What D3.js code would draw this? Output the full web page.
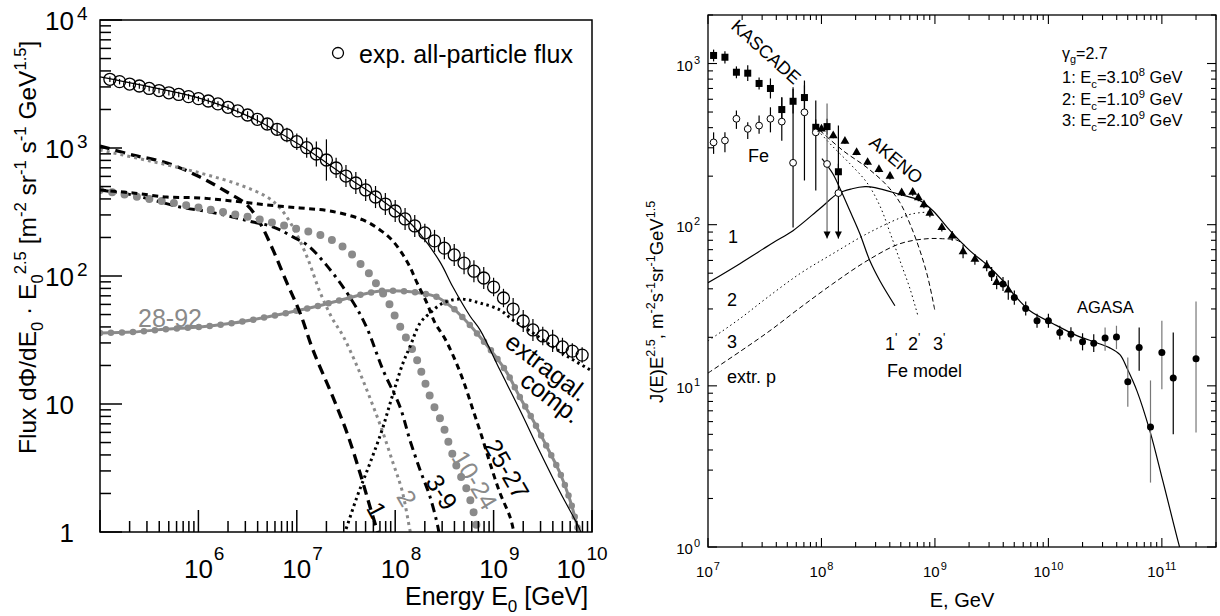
<!DOCTYPE html>
<html>
<head>
<meta charset="utf-8">
<script src="https://cdn.jsdelivr.net/npm/d3@7"></script>
<style>
body { margin: 0; background: #fff; }
text { font-family: "Liberation Sans", Arial, Helvetica, sans-serif; fill: #000; }
</style>
</head>
<body>
<svg id="chart" width="1220" height="616"></svg>
<script>
// ---------------- left panel data ----------------
var allE = [1.26e5, 1.58e5, 2.00e5, 2.51e5, 3.16e5, 3.98e5, 5.01e5, 6.31e5, 7.94e5,
  1.00e6, 1.26e6, 1.58e6, 2.00e6, 2.51e6, 3.16e6, 3.98e6, 5.01e6, 6.31e6, 7.94e6,
  1.00e7, 1.26e7, 1.58e7, 2.00e7, 2.51e7, 3.16e7, 3.98e7, 5.01e7, 6.31e7, 7.94e7,
  1.00e8, 1.26e8, 1.58e8, 2.00e8, 2.51e8, 3.16e8, 3.98e8, 5.01e8, 6.31e8, 7.94e8,
  1.00e9, 1.26e9, 1.58e9, 2.00e9, 2.51e9, 3.16e9, 3.98e9, 5.01e9, 6.31e9, 7.94e9];
var allFlux = [3440, 3300, 3160, 3050, 2920, 2810, 2700, 2620, 2520,
  2430, 2330, 2210, 2080, 1950, 1810, 1675, 1540, 1400, 1265,
  1120, 1005, 898, 806, 698, 604, 533, 470, 414, 365,
  322, 279, 246, 217, 188, 165, 146, 126, 109, 96.5,
  82, 67.3, 55.2, 44.5, 37.9, 34.0, 31.1, 27.9, 25.9, 24.1];
var allErr = [0.05, 0.05, 0.05, 0.05, 0.05, 0.05, 0.05, 0.05, 0.05,
  0.05, 0.05, 0.05, 0.05, 0.05, 0.07, 0.08, 0.10, 0.12, 0.14,
  0.16, 0.20, 0.25, 0.45, 0.20, 0.22, 0.22, 0.22, 0.22, 0.22,
  0.22, 0.22, 0.22, 0.18, 0.22, 0.22, 0.22, 0.22, 0.22, 0.22,
  0.18, 0.18, 0.22, 0.22, 0.22, 0.18, 0.22, 0.18, 0.15, 0.15];

// model curves: [energy GeV, flux]
var galTotal = [[1e5, 3590], [3.22e5, 3000], [1.04e6, 2440], [3.34e6, 1750], [1.08e7, 1055],
  [3.47e7, 572], [7.01e7, 400], [1.29e8, 279], [1.79e8, 213], [2.85e8, 129], [3.86e8, 82],
  [5.75e8, 48.7], [7.28e8, 37.9], [1.16e9, 18.4], [1.85e9, 8.98], [2.96e9, 4.22],
  [4.73e9, 2.05], [7.55e9, 1.04], [7.9e9, 0.93]];
var zHydrogen = [[1e5, 1037], [2.16e5, 881], [4.80e5, 764], [1.04e6, 593], [1.95e6, 453],
  [3.12e6, 359], [4.23e6, 259], [5.73e6, 160], [7.94e6, 88.2], [1.08e7, 51.4], [1.46e7, 26.4],
  [2.33e7, 11.3], [3.24e7, 5.94], [4.39e7, 2.89], [5.55e7, 1.57], [7.01e7, 0.866]];
var zHelium = [[1e5, 965], [3.22e5, 791], [1.04e6, 638], [2.65e6, 514], [4.98e6, 414],
  [6.75e6, 340], [9.14e6, 241], [1.27e7, 141], [1.72e7, 75], [2.28e7, 47], [2.95e7, 34],
  [4.09e7, 19.8], [5.55e7, 11.1], [7.35e7, 6.26], [9.51e7, 3.46], [1.17e8, 2.13],
  [1.41e8, 1.04], [1.48e8, 0.866]];
var z3to9 = [[1e5, 470], [2.16e5, 429], [3.46e5, 392], [6.50e5, 346], [1.31e6, 316],
  [2.47e6, 284], [3.59e6, 264], [4.98e6, 250], [6.75e6, 229], [9.14e6, 202], [1.27e7, 175],
  [2.03e7, 120], [3.72e7, 62.7], [5.16e7, 39.2], [7.52e7, 18.4], [1.12e8, 9.48],
  [1.41e8, 5.23], [1.79e8, 3.05], [2.26e8, 1.88], [2.72e8, 1.09], [2.85e8, 0.866]];
var z10to24 = [[1e5, 470], [2.74e5, 407], [6.50e5, 365], [1.55e6, 322], [3.59e6, 284],
  [8.53e6, 241], [1.94e7, 202], [3.24e7, 160], [4.71e7, 118], [5.81e7, 98.2], [7.01e7, 77.8],
  [8.07e7, 68.5], [9.27e7, 54.2], [1.04e8, 45.3], [1.20e8, 36.5], [1.59e8, 24.1],
  [1.92e8, 16.3], [2.37e8, 10.4], [2.99e8, 7.11], [3.61e8, 4.61], [4.35e8, 3.05],
  [5.50e8, 2.02], [6.78e8, 1.07], [6.93e8, 0.866]];
var z25to27 = [[1e5, 470], [2.16e5, 445], [4.80e5, 414], [1.04e6, 407], [2.25e6, 385],
  [4.98e6, 359], [1.08e7, 340], [2.17e7, 322], [4.71e7, 274], [7.01e7, 229], [9.27e7, 191],
  [1.17e8, 151], [1.41e8, 118], [1.67e8, 88.2], [2.10e8, 61.5], [2.54e8, 42.9],
  [3.13e8, 33.4], [3.86e8, 24.1], [4.89e8, 15.4], [6.18e8, 8.98], [7.62e8, 5.52],
  [9.18e8, 3.46], [1.16e9, 2.02], [1.47e9, 1.31], [1.61e9, 1.0], [1.69e9, 0.866]];
var z28to92 = [[1e5, 35.9], [2.16e5, 36.5], [4.80e5, 38.5], [1.04e6, 40.0], [2.25e6, 42.9],
  [4.98e6, 47.8], [1.08e7, 54.2], [2.17e7, 61.5], [4.39e7, 71.1], [7.01e7, 76.3],
  [1.12e8, 76.3], [1.79e8, 73.6], [2.66e8, 68.5], [3.86e8, 56.2], [5.37e8, 43.7],
  [7.28e8, 33.4], [9.86e8, 25.0], [1.37e9, 17.5], [1.85e9, 11.3], [2.51e9, 7.50],
  [3.49e9, 4.61], [4.73e9, 2.89], [5.97e9, 1.78], [7.21e9, 1.04], [7.55e9, 0.866]];
var extragal = [[2.88e7, 0.866], [3.09e7, 1.0], [4.09e7, 1.88], [5.55e7, 3.46], [7.35e7, 6.26],
  [9.27e7, 11.3], [1.20e8, 20.9], [1.41e8, 27.9], [1.79e8, 42.9], [2.26e8, 51.4],
  [3.06e8, 61.5], [4.56e8, 66.1], [7.28e8, 61.5], [1.16e9, 54.2], [1.57e9, 45.3],
  [2.51e9, 35.9], [4.02e9, 27.9], [5.97e9, 22.9], [8.89e9, 19.1], [1e10, 18.1]];

var leftXExp = [6, 7, 8, 9, 10];
var leftYTicks = [[1, "1", null], [10, "10", null], [100, "10", "2"], [1000, "10", "3"], [10000, "10", "4"]];

// ---------------- right panel data ----------------
var kascadeE = [1.12e7, 1.41e7, 1.78e7, 2.24e7, 2.82e7, 3.55e7, 4.47e7, 5.62e7, 7.08e7, 8.91e7, 1.12e8, 1.41e8];
var kascadeAll = [1122, 1094, 883, 871, 752, 700, 518, 583, 615, 402, 406, 213];
var kascadeAllHi = [1220, 1190, 960, 975, 820, 808, 616, 694, 732, 450, 455, 239];
var kascadeAllLo = [1030, 1000, 810, 778, 690, 607, 435, 490, 517, 359, 362, 190];
var kascadeFe = [324, 333, 454, 393, 412, 454, 436, 242, 498, 374, 238, 157];
var kascadeFeHi = [374, 374, 511, 432, 475, 535, 618, 713, 784, 589, 564, 412];
var kascadeFeLo = [275, 281, 393, 340, 366, 374, 332, 96, 188, 163, 82, 82];
var kascadeFeLimit = [0, 0, 0, 0, 0, 0, 0, 0, 0, 0, 1, 1];

var akenoE = [1.00e8, 1.27e8, 1.61e8, 2.04e8, 2.55e8, 3.21e8, 4.02e8, 5.09e8, 6.37e8, 7.14e8,
  8.00e8, 9.03e8, 1.15e9, 1.42e9, 1.77e9, 2.25e9, 2.86e9, 3.50e9, 4.43e9];
var akenoFlux = [393, 357, 330, 281, 244, 220, 200, 158, 159, 147, 133, 118, 96, 85, 68, 61, 55.6, 43.8, 39.3];
var akenoErr = [0.04, 0.04, 0.04, 0.04, 0.04, 0.04, 0.05, 0.05, 0.05, 0.05, 0.05, 0.06, 0.06, 0.07, 0.10, 0.08, 0.08, 0.10, 0.15];

var agasaE = [3.16e9, 3.98e9, 5.01e9, 6.31e9, 7.94e9, 1.00e10, 1.26e10, 1.58e10, 2.00e10,
  2.51e10, 3.16e10, 3.98e10, 5.01e10, 6.31e10, 7.94e10, 1.00e11, 1.26e11, 2.00e11];
var agasaFlux = [49.4, 42.8, 35.3, 30.2, 25.3, 25.3, 21.4, 20.9, 18.8, 18.4, 19.8, 20.1, 10.6, 17.3, 5.56, 16.1, 11.2, 14.7];
var agasaHi = [54.6, 47.3, 39.0, 33.4, 28.0, 28.0, 23.6, 23.1, 21.2, 20.9, 23.0, 23.6, 15.0, 23.0, 10.8, 25.3, 21.4, 33.4];
var agasaLo = [44.7, 38.7, 31.9, 27.3, 22.9, 22.9, 19.4, 18.9, 16.6, 16.2, 16.5, 16.9, 7.41, 12.4, 2.51, 9.54, 5.01, 5.13];
var agasaGrayBar = [0, 0, 0, 0, 0, 0, 0, 0, 0, 0, 1, 1, 1, 0, 1, 1, 0, 1];

var modelTotal = [[1e7, 43.6], [1.91e7, 57.3], [3.74e7, 77.3], [5.61e7, 91.8], [9.70e7, 126],
  [1.40e8, 156], [1.86e8, 167], [2.42e8, 172], [2.96e8, 170], [4.92e8, 154], [7.38e8, 141],
  [9.60e8, 122], [1.36e9, 91.8], [2.03e9, 69.0], [2.87e9, 56.4], [3.97e9, 44.9], [5.07e9, 36.2],
  [6.87e9, 29.2], [1.10e10, 24.3], [1.78e10, 20.5], [2.67e10, 18.5], [3.48e10, 17.2],
  [4.27e10, 15.6], [4.92e10, 12.9], [6.03e10, 9.31], [7.84e10, 5.25], [1.02e11, 2.57],
  [1.44e11, 0.986], [1.56e11, 0.82]];
var feModel1 = [[1.01e8, 257], [1.26e8, 207], [1.46e8, 167], [1.78e8, 122], [2.18e8, 87.9],
  [2.67e8, 59.7], [3.27e8, 44.9], [4.44e8, 31.4]];
var feModel2 = [[9.31e7, 384], [1.26e8, 305], [1.78e8, 239], [2.52e8, 182], [3.27e8, 131],
  [4.02e8, 89.2], [4.92e8, 59.7], [6.03e8, 40.0], [7.08e8, 27.2]];
var feModel3 = [[9.70e7, 384], [1.55e8, 288], [2.52e8, 226], [3.78e8, 175], [4.92e8, 137],
  [6.03e8, 101], [7.38e8, 69.0], [8.67e8, 46.9], [1.0e9, 29.2]];
var extrP2 = [[1e7, 19.0], [1.91e7, 26.1], [3.31e7, 35.2], [6.47e7, 49.7], [1.26e8, 66.1],
  [2.52e8, 87.9], [4.92e8, 110], [6.40e8, 117], [9.04e8, 120]];
var extrP3 = [[1e7, 12.0], [1.91e7, 16.3], [3.52e7, 22.0], [6.47e7, 30.5], [1.26e8, 43.0],
  [2.52e8, 59.7], [4.92e8, 76.2], [8.51e8, 81.8], [1.17e9, 81.8], [1.56e9, 80.2], [1.84e9, 74.1]];

var rightXExp = [7, 8, 9, 10, 11];
var rightYExp = [0, 1, 2, 3];

// ---------------- helpers ----------------
var svg = d3.select("#chart");
var GRAY = "#8a8a8a";

function isMajor(v) {
  var l = Math.log10(v);
  return Math.abs(l - Math.round(l)) < 1e-9;
}

// inward log ticks, long at decades, short in between
function drawTicks(g, scale, orient, pos, majLen, minLen, sw) {
  var dir = (orient === "bottom" || orient === "right") ? -1 : 1;
  var horiz = orient === "bottom" || orient === "top";
  g.append("g").selectAll("line").data(scale.ticks()).join("line")
    .each(function(v) {
      var len = isMajor(v) ? majLen : minLen, p = scale(v), s = d3.select(this);
      if (horiz) s.attr("x1", p).attr("x2", p).attr("y1", pos).attr("y2", pos + dir * len);
      else s.attr("y1", p).attr("y2", p).attr("x1", pos).attr("x2", pos + dir * len);
    })
    .attr("stroke", "#000").attr("stroke-width", sw);
}

// base + exponent label; align "base" centres the base, "all" centres everything, "end" right-aligns
function powLabel(g, x, yBase, ySup, base, exp, fs, efs, align) {
  var t = g.append("text").attr("y", yBase).attr("font-size", fs).text(base);
  var w = t.node().getComputedTextLength();
  var e = null, ew = 0;
  if (exp !== null) {
    e = g.append("text").attr("y", ySup).attr("font-size", efs).text(exp);
    ew = e.node().getComputedTextLength() + 1;
  }
  var x0 = align === "base" ? x - w / 2 : align === "all" ? x - (w + ew) / 2 : x - w - ew;
  t.attr("x", x0);
  if (e) e.attr("x", x0 + w + 1);
}

// text with sub/superscripts: parts = [[text, kind]]
function richText(sel, parts, fs) {
  var shift = 0;
  parts.forEach(function(p) {
    var kind = p[1];
    var target = kind === "sup" ? -0.42 * fs : kind === "sub" ? 0.28 * fs : 0;
    sel.append("tspan").attr("dy", target - shift).attr("font-size", kind ? fs * 0.68 : fs).text(p[0]);
    shift = target;
  });
  return sel;
}

function rotLabel(g, cx, cy, ang, txt, fs, color) {
  g.append("text").attr("transform", "translate(" + cx + "," + cy + ") rotate(" + ang + ")")
    .attr("text-anchor", "middle").attr("dominant-baseline", "central")
    .attr("font-size", fs).style("fill", color || "#000").text(txt);
}

// ================= LEFT PANEL =================
var L = {left: 100, top: 20, right: 592, bottom: 532};
var xL = d3.scaleLog().domain([1e5, 1e10]).range([L.left, L.right]);
var yL = d3.scaleLog().domain([1, 1e4]).range([L.bottom, L.top]);

var defs = svg.append("defs");
defs.append("clipPath").attr("id", "clipL").append("rect")
  .attr("x", L.left).attr("y", L.top).attr("width", L.right - L.left).attr("height", L.bottom - L.top);
defs.append("clipPath").attr("id", "clipR").append("rect")
  .attr("x", 708).attr("y", 15).attr("width", 508).attr("height", 532);

var gL = svg.append("g");
var lineL = d3.line().x(function(d) { return xL(d[0]); }).y(function(d) { return yL(d[1]); })
  .curve(d3.curveCatmullRom.alpha(0.5));

var curvesL = gL.append("g").attr("clip-path", "url(#clipL)").attr("fill", "none");
function curveL(data, stroke, width, dash, cap) {
  return curvesL.append("path").datum(data).attr("d", lineL)
    .attr("stroke", stroke).attr("stroke-width", width)
    .attr("stroke-dasharray", dash).attr("stroke-linecap", cap || "butt");
}
curveL(z28to92, GRAY, 3, null);
curveL(z28to92, GRAY, 6.5, "0 11", "round");
curveL(zHydrogen, "#000", 3.3, "10 6");
curveL(zHelium, GRAY, 3, "3 4");
curveL(z3to9, "#000", 3, "9 5 3 5");
curveL(z10to24, GRAY, 8, "0 12.5", "round");
curveL(z25to27, "#000", 3, "6 4.5");
curveL(extragal, "#000", 3, "2.5 3.5");
curveL(galTotal, "#000", 1.2, null);

// all-particle data
var ptsL = gL.append("g");
ptsL.selectAll("line").data(allE).join("line")
  .attr("x1", function(d) { return xL(d); }).attr("x2", function(d) { return xL(d); })
  .attr("y1", function(d, i) { return yL(allFlux[i] * (1 + allErr[i])); })
  .attr("y2", function(d, i) { return yL(allFlux[i] / (1 + allErr[i])); })
  .attr("stroke", "#000").attr("stroke-width", 1.2);
ptsL.selectAll("circle").data(allE).join("circle")
  .attr("cx", function(d) { return xL(d); }).attr("cy", function(d, i) { return yL(allFlux[i]); })
  .attr("r", 6).attr("fill", "none").attr("stroke", "#000").attr("stroke-width", 1.3);

// frame and ticks
gL.append("rect").attr("x", L.left).attr("y", L.top).attr("width", L.right - L.left)
  .attr("height", L.bottom - L.top).attr("fill", "none").attr("stroke", "#000").attr("stroke-width", 1.5);
drawTicks(gL, xL, "bottom", L.bottom, 22, 11, 1.5);
drawTicks(gL, yL, "left", L.left, 22, 11, 1.5);

leftXExp.forEach(function(e) {
  var x = xL(Math.pow(10, e)) + (e === 10 ? -21 : 0);
  powLabel(gL, x, 578, 560, "10", String(e), 26, 19, "base");
});
leftYTicks.forEach(function(t) {
  var y = yL(t[0]);
  var tx = gL.append("text").attr("y", y + 9.5).attr("font-size", 26).text(t[1]);
  var w = tx.node().getComputedTextLength();
  tx.attr("x", 74 - w);
  if (t[2]) gL.append("text").attr("x", 77).attr("y", y).attr("font-size", 19).text(t[2]);
});

// axis titles
richText(gL.append("text").attr("x", 405).attr("y", 605).attr("font-size", 25),
  [["Energy E", null], ["0", "sub"], [" [GeV]", null]], 25);
richText(gL.append("text").attr("transform", "translate(36,454) rotate(-90)").attr("font-size", 24.5),
  [["Flux d\u03A6/dE", null], ["0", "sub"], [" \u00B7 E", null], ["0", "sub"], ["2.5", "sup"],
   [" [m", null], ["-2", "sup"], [" sr", null], ["-1", "sup"], [" s", null], ["-1", "sup"],
   [" GeV", null], ["1.5", "sup"], ["]", null]], 24.5);

// legend
gL.append("circle").attr("cx", 338).attr("cy", 53).attr("r", 5.5)
  .attr("fill", "none").attr("stroke", "#000").attr("stroke-width", 1.3);
gL.append("text").attr("x", 359).attr("y", 63).attr("font-size", 25).text("exp. all-particle flux");

// curve labels
gL.append("text").attr("x", 138).attr("y", 327).attr("font-size", 25).style("fill", GRAY).text("28-92");
rotLabel(gL, 377, 510, 62, "1", 25);
rotLabel(gL, 407, 498, 60, "2", 25, GRAY);
rotLabel(gL, 442, 492, 58, "3-9", 25);
rotLabel(gL, 475, 480, 59, "10-24", 25, GRAY);
rotLabel(gL, 507, 469, 60, "25-27", 25);
rotLabel(gL, 547, 367, 37, "extragal.", 25);
rotLabel(gL, 551, 397, 37, "comp.", 25);

// ================= RIGHT PANEL =================
var R = {left: 708, top: 15, right: 1216, bottom: 547};
var xR = d3.scaleLog().domain([1e7, 3e11]).range([R.left, R.right]);
var yR = d3.scaleLog().domain([1, 2000]).range([R.bottom, R.top]);
var gR = svg.append("g");
var lineR = d3.line().x(function(d) { return xR(d[0]); }).y(function(d) { return yR(d[1]); })
  .curve(d3.curveCatmullRom.alpha(0.5));
var curvesR = gR.append("g").attr("clip-path", "url(#clipR)").attr("fill", "none");
function curveR(data, width, dash) {
  return curvesR.append("path").datum(data).attr("d", lineR)
    .attr("stroke", "#000").attr("stroke-width", width).attr("stroke-dasharray", dash);
}
curveR(modelTotal, 1.2, null);
curveR(feModel1, 1.2, null);
curveR(feModel2, 1, "1.5 3");
curveR(feModel3, 1, "5 3");
curveR(extrP2, 1, "1.5 3");
curveR(extrP3, 1, "5 3");

var ptsR = gR.append("g");
function bars(g, E, hi, lo, color) {
  g.append("g").selectAll("line").data(E).join("line")
    .attr("x1", function(d) { return xR(d); }).attr("x2", function(d) { return xR(d); })
    .attr("y1", function(d, i) { return yR(hi[i]); }).attr("y2", function(d, i) { return yR(lo[i]); })
    .attr("stroke", function(d, i) { return color(i); }).attr("stroke-width", 1.2);
}
bars(ptsR, kascadeE, kascadeAllHi, kascadeAllLo, function() { return "#000"; });
bars(ptsR, kascadeE, kascadeFeHi, kascadeFeLo, function(i) { return i === 10 ? "#666" : "#000"; });
ptsR.append("g").selectAll("path").data(kascadeE.filter(function(d, i) { return kascadeFeLimit[i]; })).join("path")
  .attr("d", function(d) {
    var i = kascadeE.indexOf(d), x = xR(d), y = yR(kascadeFeLo[i]);
    return "M" + (x - 3.5) + "," + (y - 7) + "L" + (x + 3.5) + "," + (y - 7) + "L" + x + "," + y + "Z";
  }).attr("fill", "#000");
bars(ptsR, akenoE, akenoFlux.map(function(v, i) { return v * (1 + akenoErr[i]); }),
  akenoFlux.map(function(v, i) { return v / (1 + akenoErr[i]); }), function() { return "#000"; });
bars(ptsR, agasaE, agasaHi, agasaLo, function(i) { return agasaGrayBar[i] ? "#777" : "#000"; });

ptsR.append("g").selectAll("rect").data(kascadeE).join("rect")
  .attr("x", function(d) { return xR(d) - 3.5; }).attr("y", function(d, i) { return yR(kascadeAll[i]) - 3.5; })
  .attr("width", 7).attr("height", 7).attr("fill", "#000");
ptsR.append("g").selectAll("circle").data(kascadeE).join("circle")
  .attr("cx", function(d) { return xR(d); }).attr("cy", function(d, i) { return yR(kascadeFe[i]); })
  .attr("r", 3.4).attr("fill", "#fff").attr("stroke", "#000").attr("stroke-width", 1);
ptsR.append("g").selectAll("path").data(akenoE).join("path")
  .attr("transform", function(d, i) { return "translate(" + xR(d) + "," + yR(akenoFlux[i]) + ")"; })
  .attr("d", d3.symbol(d3.symbolTriangle, 34)).attr("fill", "#000");
ptsR.append("g").selectAll("circle").data(agasaE).join("circle")
  .attr("cx", function(d) { return xR(d); }).attr("cy", function(d, i) { return yR(agasaFlux[i]); })
  .attr("r", 3.5).attr("fill", "#000");

gR.append("rect").attr("x", R.left).attr("y", R.top).attr("width", R.right - R.left)
  .attr("height", R.bottom - R.top).attr("fill", "none").attr("stroke", "#000").attr("stroke-width", 1.3);
drawTicks(gR, xR, "bottom", R.bottom, 9, 5, 1.1);
drawTicks(gR, xR, "top", R.top, 9, 5, 1.1);
drawTicks(gR, yR, "left", R.left, 9, 5, 1.1);
drawTicks(gR, yR, "right", R.right, 9, 5, 1.1);

rightXExp.forEach(function(e) {
  powLabel(gR, xR(Math.pow(10, e)), 577, 570, "10", String(e), 15, 11, "all");
});
rightYExp.forEach(function(e) {
  var y = yR(Math.pow(10, e));
  powLabel(gR, 700, y + 7, y, "10", String(e), 15, 11, "end");
});

gR.append("text").attr("x", 962).attr("y", 607).attr("text-anchor", "middle").attr("font-size", 20).text("E, GeV");
richText(gR.append("text").attr("transform", "translate(663,403) rotate(-90)").attr("font-size", 18.5),
  [["J(E)E", null], ["2.5", "sup"], [", m", null], ["-2", "sup"], ["s", null], ["-1", "sup"],
   ["sr", null], ["-1", "sup"], ["GeV", null], ["1.5", "sup"]], 18.5);

rotLabel(gR, 766, 52, 42, "KASCADE", 18);
rotLabel(gR, 896, 160, 40, "AKENO", 18);
gR.append("text").attr("x", 748).attr("y", 162).attr("font-size", 18).text("Fe");
gR.append("text").attr("x", 728).attr("y", 243).attr("font-size", 18).text("1");
gR.append("text").attr("x", 727).attr("y", 306).attr("font-size", 18).text("2");
gR.append("text").attr("x", 727).attr("y", 348).attr("font-size", 18).text("3");
gR.append("text").attr("x", 727).attr("y", 383).attr("font-size", 18).text("extr. p");
[["1", 885], ["2", 908], ["3", 933]].forEach(function(p) {
  richText(gR.append("text").attr("x", p[1]).attr("y", 350).attr("font-size", 18), [[p[0], null], ["'", "sup"]], 18);
});
gR.append("text").attr("x", 887).attr("y", 377).attr("font-size", 18).text("Fe model");
gR.append("text").attr("x", 1077).attr("y", 313).attr("font-size", 16.5).text("AGASA");

richText(gR.append("text").attr("x", 1062).attr("y", 59).attr("font-size", 16),
  [["\u03B3", null], ["g", "sub"], ["=2.7", null]], 16);
[["1: E", "=3.10", "8", 83], ["2: E", "=1.10", "9", 105], ["3: E", "=2.10", "9", 126]].forEach(function(p) {
  richText(gR.append("text").attr("x", 1062).attr("y", p[3]).attr("font-size", 16.5),
    [[p[0], null], ["c", "sub"], [p[1], null], [p[2], "sup"], [" GeV", null]], 16.5);
});
</script>
</body>
</html>
